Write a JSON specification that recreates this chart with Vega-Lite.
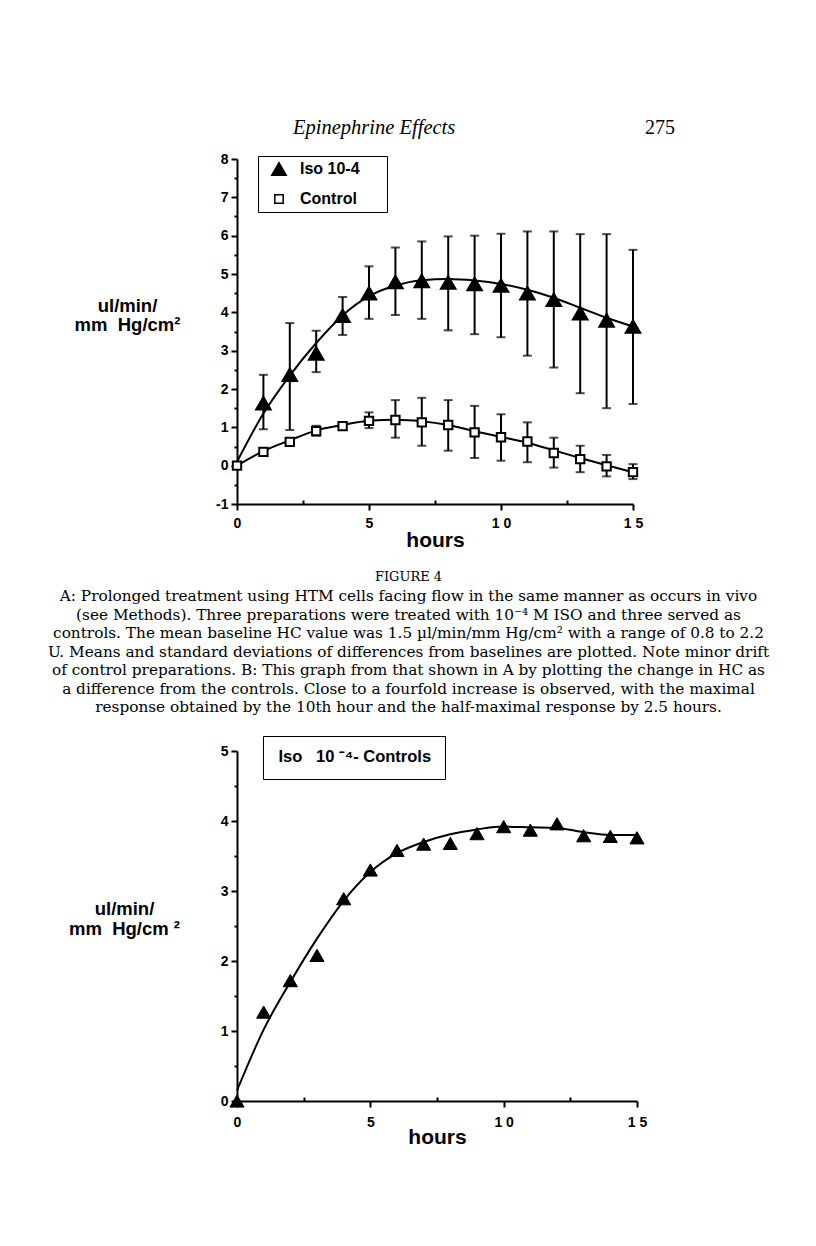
{
  "$schema": "https://vega.github.io/schema/vega-lite/v6.json",
  "background": "white",
  "padding": {"left": 47, "top": 117, "right": 5, "bottom": 5},
  "bounds": "flush",
  "spacing": 40,
  "resolve": {
    "scale": {"shape": "independent", "fill": "independent", "size": "independent", "stroke": "independent"},
    "legend": {"shape": "independent", "fill": "independent", "size": "independent", "stroke": "independent"}
  },
  "title": {"text": "275", "anchor": "start", "frame": "group", "dx": 408, "offset": -36, "baseline": "alphabetic", "align": "left", "font": "Liberation Serif", "fontSize": 20, "fontWeight": "normal", "color": "black"},
  "config": {
    "view": {"stroke": null},
    "axis": {
      "domainColor": "black", "domainWidth": 2, "tickColor": "black", "tickWidth": 2, "tickSize": 6,
      "labelFont": "Liberation Sans", "labelFontWeight": "bold", "labelFontSize": 14, "labelColor": "black",
      "titleFont": "Liberation Sans", "titleFontWeight": "bold", "titleColor": "black",
      "grid": false, "labelFlush": false, "labelOverlap": false
    },
    "legend": {"labelFont": "Liberation Sans", "labelFontWeight": "bold", "labelColor": "black", "strokeColor": "black"}
  },
  "datasets": {
    "measA": [
      {"t": 1, "group": "Iso 10-4", "mean": 1.63, "lo": 0.95, "hi": 2.37},
      {"t": 2, "group": "Iso 10-4", "mean": 2.37, "lo": 0.93, "hi": 3.72},
      {"t": 3, "group": "Iso 10-4", "mean": 2.93, "lo": 2.44, "hi": 3.52},
      {"t": 4, "group": "Iso 10-4", "mean": 3.91, "lo": 3.41, "hi": 4.40},
      {"t": 5, "group": "Iso 10-4", "mean": 4.50, "lo": 3.83, "hi": 5.20},
      {"t": 6, "group": "Iso 10-4", "mean": 4.79, "lo": 3.93, "hi": 5.69},
      {"t": 7, "group": "Iso 10-4", "mean": 4.82, "lo": 3.83, "hi": 5.85},
      {"t": 8, "group": "Iso 10-4", "mean": 4.78, "lo": 3.53, "hi": 5.98},
      {"t": 9, "group": "Iso 10-4", "mean": 4.74, "lo": 3.43, "hi": 6.00},
      {"t": 10, "group": "Iso 10-4", "mean": 4.70, "lo": 3.35, "hi": 6.05},
      {"t": 11, "group": "Iso 10-4", "mean": 4.50, "lo": 2.87, "hi": 6.11},
      {"t": 12, "group": "Iso 10-4", "mean": 4.33, "lo": 2.56, "hi": 6.11},
      {"t": 13, "group": "Iso 10-4", "mean": 3.98, "lo": 1.89, "hi": 6.04},
      {"t": 14, "group": "Iso 10-4", "mean": 3.79, "lo": 1.50, "hi": 6.04},
      {"t": 15, "group": "Iso 10-4", "mean": 3.63, "lo": 1.61, "hi": 5.63},
      {"t": 0, "group": "Control", "mean": 0.0, "lo": null, "hi": null},
      {"t": 1, "group": "Control", "mean": 0.36, "lo": null, "hi": null},
      {"t": 2, "group": "Control", "mean": 0.62, "lo": null, "hi": null},
      {"t": 3, "group": "Control", "mean": 0.90, "lo": 0.78, "hi": 1.04},
      {"t": 4, "group": "Control", "mean": 1.03, "lo": null, "hi": null},
      {"t": 5, "group": "Control", "mean": 1.17, "lo": 0.98, "hi": 1.39},
      {"t": 6, "group": "Control", "mean": 1.19, "lo": 0.73, "hi": 1.71},
      {"t": 7, "group": "Control", "mean": 1.13, "lo": 0.52, "hi": 1.77},
      {"t": 8, "group": "Control", "mean": 1.06, "lo": 0.39, "hi": 1.71},
      {"t": 9, "group": "Control", "mean": 0.87, "lo": 0.20, "hi": 1.56},
      {"t": 10, "group": "Control", "mean": 0.74, "lo": 0.13, "hi": 1.34},
      {"t": 11, "group": "Control", "mean": 0.63, "lo": 0.09, "hi": 1.13},
      {"t": 12, "group": "Control", "mean": 0.33, "lo": -0.05, "hi": 0.73},
      {"t": 13, "group": "Control", "mean": 0.17, "lo": -0.17, "hi": 0.52},
      {"t": 14, "group": "Control", "mean": -0.02, "lo": -0.28, "hi": 0.28},
      {"t": 15, "group": "Control", "mean": -0.17, "lo": -0.35, "hi": 0.04}
    ],
    "fitA": [
      {"t": 0, "group": "Iso 10-4", "fit": 0.1},
      {"t": 1, "group": "Iso 10-4", "fit": 1.36},
      {"t": 2, "group": "Iso 10-4", "fit": 2.35},
      {"t": 3, "group": "Iso 10-4", "fit": 3.20},
      {"t": 4, "group": "Iso 10-4", "fit": 3.92},
      {"t": 5, "group": "Iso 10-4", "fit": 4.42},
      {"t": 6, "group": "Iso 10-4", "fit": 4.70},
      {"t": 7, "group": "Iso 10-4", "fit": 4.84},
      {"t": 8, "group": "Iso 10-4", "fit": 4.87},
      {"t": 9, "group": "Iso 10-4", "fit": 4.83},
      {"t": 10, "group": "Iso 10-4", "fit": 4.74},
      {"t": 11, "group": "Iso 10-4", "fit": 4.59},
      {"t": 12, "group": "Iso 10-4", "fit": 4.38},
      {"t": 13, "group": "Iso 10-4", "fit": 4.12},
      {"t": 14, "group": "Iso 10-4", "fit": 3.86},
      {"t": 15, "group": "Iso 10-4", "fit": 3.63},
      {"t": 0, "group": "Control", "fit": 0.0},
      {"t": 1, "group": "Control", "fit": 0.38},
      {"t": 2, "group": "Control", "fit": 0.66},
      {"t": 3, "group": "Control", "fit": 0.92},
      {"t": 4, "group": "Control", "fit": 1.06},
      {"t": 5, "group": "Control", "fit": 1.17},
      {"t": 6, "group": "Control", "fit": 1.2},
      {"t": 7, "group": "Control", "fit": 1.16},
      {"t": 8, "group": "Control", "fit": 1.06},
      {"t": 9, "group": "Control", "fit": 0.9},
      {"t": 10, "group": "Control", "fit": 0.75},
      {"t": 11, "group": "Control", "fit": 0.6},
      {"t": 12, "group": "Control", "fit": 0.4},
      {"t": 13, "group": "Control", "fit": 0.2},
      {"t": 14, "group": "Control", "fit": 0.01},
      {"t": 15, "group": "Control", "fit": -0.17}
    ],
    "measB": [
      {"t": 0, "series": "Iso\u00a0\u00a0\u00a010\u00a0\u207b\u2074- Controls", "diff": 0.0},
      {"t": 1, "series": "Iso\u00a0\u00a0\u00a010\u00a0\u207b\u2074- Controls", "diff": 1.27},
      {"t": 2, "series": "Iso\u00a0\u00a0\u00a010\u00a0\u207b\u2074- Controls", "diff": 1.72},
      {"t": 3, "series": "Iso\u00a0\u00a0\u00a010\u00a0\u207b\u2074- Controls", "diff": 2.08},
      {"t": 4, "series": "Iso\u00a0\u00a0\u00a010\u00a0\u207b\u2074- Controls", "diff": 2.89},
      {"t": 5, "series": "Iso\u00a0\u00a0\u00a010\u00a0\u207b\u2074- Controls", "diff": 3.30},
      {"t": 6, "series": "Iso\u00a0\u00a0\u00a010\u00a0\u207b\u2074- Controls", "diff": 3.58},
      {"t": 7, "series": "Iso\u00a0\u00a0\u00a010\u00a0\u207b\u2074- Controls", "diff": 3.67},
      {"t": 8, "series": "Iso\u00a0\u00a0\u00a010\u00a0\u207b\u2074- Controls", "diff": 3.68},
      {"t": 9, "series": "Iso\u00a0\u00a0\u00a010\u00a0\u207b\u2074- Controls", "diff": 3.82},
      {"t": 10, "series": "Iso\u00a0\u00a0\u00a010\u00a0\u207b\u2074- Controls", "diff": 3.92},
      {"t": 11, "series": "Iso\u00a0\u00a0\u00a010\u00a0\u207b\u2074- Controls", "diff": 3.87},
      {"t": 12, "series": "Iso\u00a0\u00a0\u00a010\u00a0\u207b\u2074- Controls", "diff": 3.96},
      {"t": 13, "series": "Iso\u00a0\u00a0\u00a010\u00a0\u207b\u2074- Controls", "diff": 3.79},
      {"t": 14, "series": "Iso\u00a0\u00a0\u00a010\u00a0\u207b\u2074- Controls", "diff": 3.78},
      {"t": 15, "series": "Iso\u00a0\u00a0\u00a010\u00a0\u207b\u2074- Controls", "diff": 3.76}
    ],
    "fitB": [
      {"t": 0, "fit": 0.15}, {"t": 1, "fit": 1.02}, {"t": 2, "fit": 1.70}, {"t": 3, "fit": 2.32},
      {"t": 4, "fit": 2.86}, {"t": 5, "fit": 3.27}, {"t": 6, "fit": 3.54}, {"t": 7, "fit": 3.70},
      {"t": 8, "fit": 3.81}, {"t": 9, "fit": 3.88}, {"t": 10, "fit": 3.92}, {"t": 11, "fit": 3.91},
      {"t": 12, "fit": 3.90}, {"t": 13, "fit": 3.84}, {"t": 14, "fit": 3.80}, {"t": 15, "fit": 3.80}
    ],
    "caption": [
      {"line": 0, "text": "FIGURE 4"},
      {"line": 1, "text": "A: Prolonged treatment using HTM cells facing flow in the same manner as occurs in vivo"},
      {"line": 2, "text": "(see Methods). Three preparations were treated with 10\u207b\u2074 M ISO and three served as"},
      {"line": 3, "text": "controls. The mean baseline HC value was 1.5 \u00b5l/min/mm Hg/cm\u00b2 with a range of 0.8 to 2.2"},
      {"line": 4, "text": "U. Means and standard deviations of differences from baselines are plotted. Note minor drift"},
      {"line": 5, "text": "of control preparations. B: This graph from that shown in A by plotting the change in HC as"},
      {"line": 6, "text": "a difference from the controls. Close to a fourfold increase is observed, with the maximal"},
      {"line": 7, "text": "response obtained by the 10th hour and the half-maximal response by 2.5 hours."}
    ]
  },
  "vconcat": [
    {
      "width": 396,
      "height": 345,
      "title": {"text": "Epinephrine Effects", "anchor": "start", "frame": "group", "dx": 56, "offset": -2, "baseline": "alphabetic", "align": "left", "font": "Liberation Serif", "fontStyle": "italic", "fontSize": 20.5, "fontWeight": "normal", "color": "black"},
      "encoding": {
        "x": {"field": "t", "type": "quantitative", "scale": {"domain": [0, 15], "nice": false},
          "axis": {"values": [0, 2.5, 5, 7.5, 10, 12.5, 15],
            "labelExpr": "datum.value == 10 ? '1 0' : datum.value == 15 ? '1 5' : datum.value % 5 == 0 ? datum.label : ''",
            "title": "hours", "titleFontSize": 21, "labelPadding": 6, "titlePadding": -1,
            "tickSize": {"condition": {"test": "datum.value % 5 != 0", "value": -4}, "value": 6}}}
      },
      "layer": [
        {
          "data": {"name": "fitA"},
          "mark": {"type": "line", "interpolate": "monotone", "color": "black", "strokeWidth": 2},
          "encoding": {
            "y": {"field": "fit", "type": "quantitative", "scale": {"domain": [-1, 8], "nice": false},
              "axis": {"values": [-1, -0.5, 0, 0.5, 1, 1.5, 2, 2.5, 3, 3.5, 4, 4.5, 5, 5.5, 6, 6.5, 7, 7.5, 8],
                "labelExpr": "datum.value % 1 == 0 ? '' + datum.value : ''",
                "title": ["ul/min/", "mm\u00a0\u00a0Hg/cm\u00b2"], "titleAngle": 0, "titleAlign": "center", "titleBaseline": "middle",
                "titleX": -110, "titleY": 146, "titleFontSize": 18.5, "titleLineHeight": 19, "labelPadding": 3,
                "tickSize": {"condition": {"test": "datum.value % 1 != 0", "value": 3}, "value": 6}}},
            "detail": {"field": "group"}
          }
        },
        {
          "data": {"name": "measA"},
          "transform": [{"filter": "datum.hi != null"}],
          "mark": {"type": "errorbar", "color": "black", "thickness": 2, "ticks": {"size": 9, "thickness": 2, "color": "black"}},
          "encoding": {
            "y": {"field": "lo", "type": "quantitative",
              "axis": {"values": [-1, -0.5, 0, 0.5, 1, 1.5, 2, 2.5, 3, 3.5, 4, 4.5, 5, 5.5, 6, 6.5, 7, 7.5, 8],
                "labelExpr": "datum.value % 1 == 0 ? '' + datum.value : ''",
                "title": ["ul/min/", "mm\u00a0\u00a0Hg/cm\u00b2"], "titleAngle": 0, "titleAlign": "center", "titleBaseline": "middle",
                "titleX": -110, "titleY": 146, "titleFontSize": 18.5, "titleLineHeight": 19, "labelPadding": 3,
                "tickSize": {"condition": {"test": "datum.value % 1 != 0", "value": 3}, "value": 6}}},
            "y2": {"field": "hi"}
          }
        },
        {
          "data": {"name": "measA"},
          "mark": {"type": "point", "filled": true, "strokeWidth": 2, "opacity": 1},
          "encoding": {
            "y": {"field": "mean", "type": "quantitative",
              "axis": {"values": [-1, -0.5, 0, 0.5, 1, 1.5, 2, 2.5, 3, 3.5, 4, 4.5, 5, 5.5, 6, 6.5, 7, 7.5, 8],
                "labelExpr": "datum.value % 1 == 0 ? '' + datum.value : ''",
                "title": ["ul/min/", "mm\u00a0\u00a0Hg/cm\u00b2"], "titleAngle": 0, "titleAlign": "center", "titleBaseline": "middle",
                "titleX": -110, "titleY": 146, "titleFontSize": 18.5, "titleLineHeight": 19, "labelPadding": 3,
                "tickSize": {"condition": {"test": "datum.value % 1 != 0", "value": 3}, "value": 6}}},
            "shape": {"field": "group", "type": "nominal", "scale": {"domain": ["Iso 10-4", "Control"], "range": ["triangle-up", "square"]},
              "legend": {"orient": "none", "legendX": 21, "legendY": -3, "title": "\u00a0\u00a0\u00a0", "titleOrient": "right", "titlePadding": 22, "titleFontSize": 16, "padding": 5, "labelFontSize": 16, "rowPadding": 12, "labelOffset": 13, "symbolOffset": 8}},
            "fill": {"field": "group", "type": "nominal", "scale": {"domain": ["Iso 10-4", "Control"], "range": ["black", "white"]},
              "legend": {"orient": "none", "legendX": 21, "legendY": -3, "title": "\u00a0\u00a0\u00a0", "titleOrient": "right", "titlePadding": 22, "titleFontSize": 16, "padding": 5, "labelFontSize": 16, "rowPadding": 12, "labelOffset": 13, "symbolOffset": 8}},
            "stroke": {"field": "group", "type": "nominal", "scale": {"domain": ["Iso 10-4", "Control"], "range": ["black", "black"]},
              "legend": {"orient": "none", "legendX": 21, "legendY": -3, "title": "\u00a0\u00a0\u00a0", "titleOrient": "right", "titlePadding": 22, "titleFontSize": 16, "padding": 5, "labelFontSize": 16, "rowPadding": 12, "labelOffset": 13, "symbolOffset": 8}},
            "size": {"field": "group", "type": "nominal", "scale": {"domain": ["Iso 10-4", "Control"], "range": [210, 70]},
              "legend": {"orient": "none", "legendX": 21, "legendY": -3, "title": "\u00a0\u00a0\u00a0", "titleOrient": "right", "titlePadding": 22, "titleFontSize": 16, "padding": 5, "labelFontSize": 16, "rowPadding": 12, "labelOffset": 13, "symbolOffset": 8}}
          }
        }
      ]
    },
    {
      "width": 343,
      "height": 167,
      "data": {"name": "caption"},
      "layer": [
        {
          "transform": [{"filter": "datum.line == 0"}],
          "mark": {"type": "text", "font": "DejaVu Serif", "fontSize": 13, "align": "center", "baseline": "middle", "color": "black"},
          "encoding": {
            "y": {"field": "line", "type": "ordinal", "axis": null, "scale": {"type": "point", "domain": [0, 1, 2, 3, 4, 5, 6, 7], "padding": 1.2, "align": 0.9}},
            "text": {"field": "text"}
          }
        },
        {
          "transform": [{"filter": "datum.line > 0"}],
          "mark": {"type": "text", "font": "DejaVu Serif", "fontSize": 15.3, "align": "center", "baseline": "middle", "color": "black"},
          "encoding": {
            "y": {"field": "line", "type": "ordinal", "axis": null},
            "text": {"field": "text"}
          }
        }
      ]
    },
    {
      "width": 400,
      "height": 350,
      "encoding": {
        "x": {"field": "t", "type": "quantitative", "scale": {"domain": [0, 15], "nice": false},
          "axis": {"values": [0, 2.5, 5, 7.5, 10, 12.5, 15],
            "labelExpr": "datum.value == 10 ? '1 0' : datum.value == 15 ? '1 5' : datum.value % 5 == 0 ? datum.label : ''",
            "title": "hours", "titleFontSize": 21, "labelPadding": 8, "titlePadding": -3,
            "tickSize": {"condition": {"test": "datum.value % 5 != 0", "value": -4}, "value": 6}}}
      },
      "layer": [
        {
          "data": {"name": "fitB"},
          "mark": {"type": "line", "interpolate": "monotone", "color": "black", "strokeWidth": 2},
          "encoding": {
            "y": {"field": "fit", "type": "quantitative", "scale": {"domain": [0, 5], "nice": false},
              "axis": {"values": [0, 0.5, 1, 1.5, 2, 2.5, 3, 3.5, 4, 4.5, 5],
                "labelExpr": "datum.value % 1 == 0 ? '' + datum.value : ''",
                "title": ["ul/min/", "mm\u00a0\u00a0Hg/cm \u00b2"], "titleAngle": 0, "titleAlign": "center", "titleBaseline": "middle",
                "titleX": -113, "titleY": 157, "titleFontSize": 18.5, "titleLineHeight": 20, "labelPadding": 3,
                "tickSize": {"condition": {"test": "datum.value % 1 != 0", "value": 3}, "value": 6}}}
          }
        },
        {
          "data": {"name": "measB"},
          "mark": {"type": "point", "filled": true, "fill": "black", "stroke": "black", "strokeWidth": 1, "size": 200, "opacity": 1},
          "encoding": {
            "y": {"field": "diff", "type": "quantitative",
              "axis": {"values": [0, 0.5, 1, 1.5, 2, 2.5, 3, 3.5, 4, 4.5, 5],
                "labelExpr": "datum.value % 1 == 0 ? '' + datum.value : ''",
                "title": ["ul/min/", "mm\u00a0\u00a0Hg/cm \u00b2"], "titleAngle": 0, "titleAlign": "center", "titleBaseline": "middle",
                "titleX": -113, "titleY": 157, "titleFontSize": 18.5, "titleLineHeight": 20, "labelPadding": 3,
                "tickSize": {"condition": {"test": "datum.value % 1 != 0", "value": 3}, "value": 6}}},
            "shape": {"field": "series", "type": "nominal", "scale": {"range": ["triangle-up"]},
              "legend": {"orient": "none", "legendX": 26, "legendY": -15, "title": null, "padding": 13, "labelFontSize": 16.5, "labelOffset": -14, "symbolOpacity": 0, "symbolSize": 1}}
          }
        }
      ]
    }
  ]
}
